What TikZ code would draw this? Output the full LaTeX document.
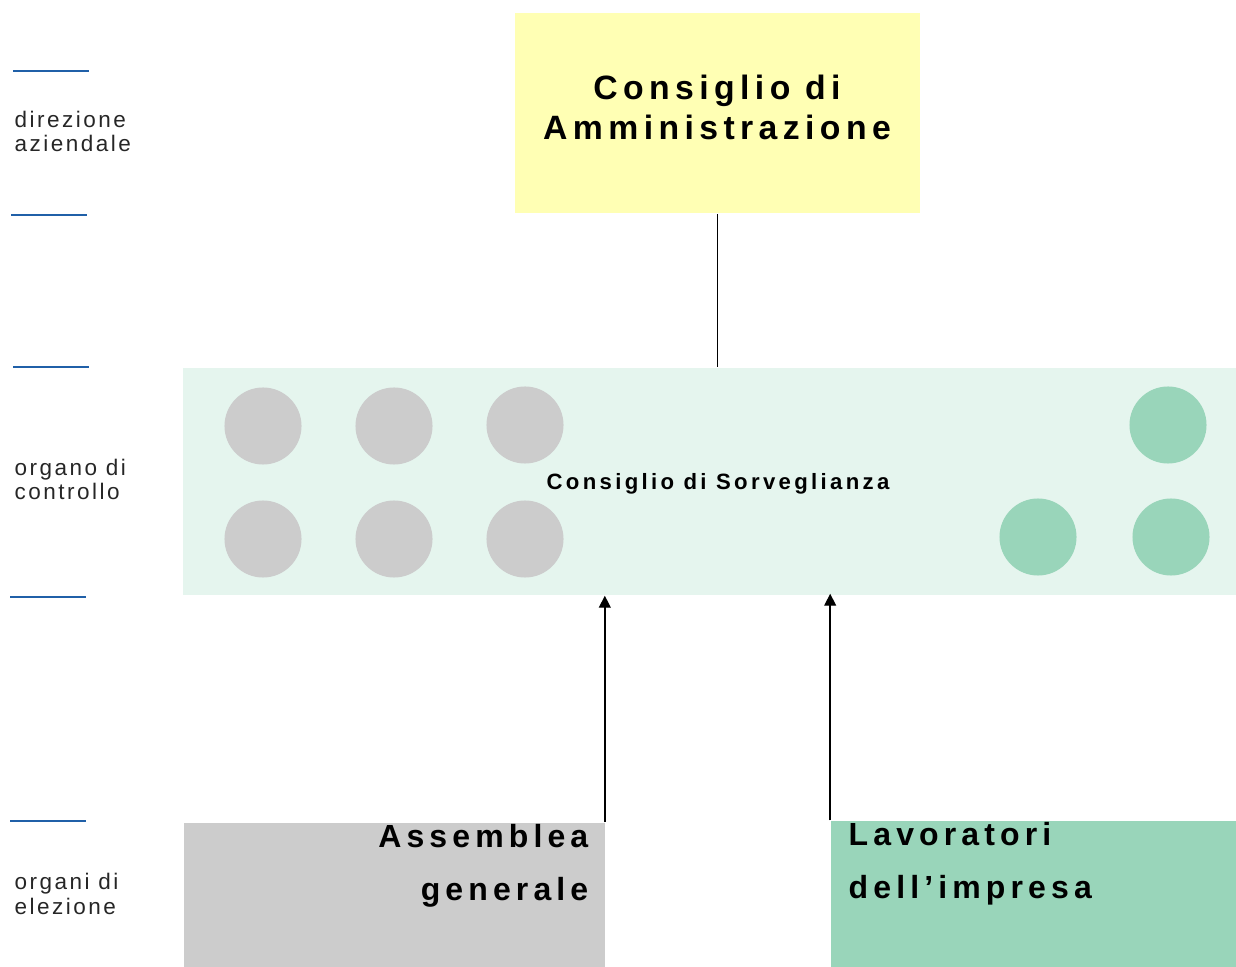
\documentclass[tikz,border=0pt]{standalone}
\usepackage{fontspec}
\setmainfont{Liberation Sans}
\newfontfamily\lblfont[LetterSpace=11]{Liberation Sans}
\newfontfamily\ttlfont[LetterSpace=16]{Liberation Sans}
\newfontfamily\cdsfont[LetterSpace=15]{Liberation Sans}
\newfontfamily\boxfont[LetterSpace=16]{Liberation Sans}
\usetikzlibrary{arrows.meta}
\definecolor{cdayellow}{RGB}{255,255,180}
\definecolor{bandgreen}{RGB}{229,245,238}
\definecolor{circgreen}{RGB}{153,213,186}
\definecolor{circgray}{RGB}{204,204,204}
\definecolor{rulerblue}{RGB}{32,96,168}
\tikzset{
  box/.style={rectangle, inner sep=0pt, draw=none},
  graycirc/.style={circle, fill=circgray, minimum size=0.77cm, inner sep=0pt},
  greencirc/.style={circle, fill=circgreen, minimum size=0.77cm, inner sep=0pt},
  sidelabel/.style={anchor=base west, inner sep=0pt, align=left, font=\lblfont\fontsize{6.4}{7.1}\selectfont, text=black!85},
  ruler/.style={draw=rulerblue, line width=0.35pt},
  conn/.style={draw=black, line width=0.4pt},
  arr/.style={conn, -{Triangle[length=3.4pt,width=3.4pt]}}
}
\begin{document}
\begin{tikzpicture}[x=0.01cm,y=-0.01cm]
\useasboundingbox (0,0) rectangle (1236,967);
% boxes
\node[box, fill=cdayellow, minimum width=4.05cm, minimum height=2.0cm] (cda) at (717.5,113) {};
\node[box, fill=bandgreen, minimum width=10.53cm, minimum height=2.27cm] (cds) at (709.5,481.5) {};
\node[box, fill=circgray, minimum width=4.21cm, minimum height=1.44cm] (ag) at (394.5,895) {};
\node[box, fill=circgreen, minimum width=4.05cm, minimum height=1.46cm] (lav) at (1033.5,894) {};
% circles
\node[graycirc] (g1) at (263,426) {};
\node[graycirc] (g2) at (394,426) {};
\node[graycirc] (g3) at (525,425) {};
\node[graycirc] (g4) at (263,539) {};
\node[graycirc] (g5) at (394,539) {};
\node[graycirc] (g6) at (525,539) {};
\node[greencirc] (v1) at (1168,425) {};
\node[greencirc] (v2) at (1038,537) {};
\node[greencirc] (v3) at (1171,537) {};
% texts (base anchor = baseline of last line)
\node[anchor=base, inner sep=0pt, align=center, font=\ttlfont\bfseries\fontsize{9.6}{11.4}\selectfont] (cdat) at (717,140) {Consiglio di\\Amministrazione};
\node[anchor=base, inner sep=0pt, font=\cdsfont\bfseries\fontsize{6.3}{7}\selectfont] (cdst) at (718,490) {Consiglio di Sorveglianza};
\node[anchor=base east, inner sep=0pt, align=right, font=\boxfont\bfseries\fontsize{9.1}{15}\selectfont] (agt) at (589,900) {Assemblea\\generale};
\node[anchor=base west, inner sep=0pt, align=left, font=\boxfont\bfseries\fontsize{9.1}{15}\selectfont] (lavt) at (848,898) {Lavoratori\\dell’impresa};
% connectors
\draw[conn] (cda.south) -- (cda.south |- cds.north);
\coordinate (a1) at ([xshift=-0.01cm]ag.north east);
\coordinate (a2) at (lav.north west);
\draw[arr] (a1) -- (a1 |- cds.south);
\draw[arr] (a2) -- ([yshift=0.02cm]a2 |- cds.south);
% side rulers
\coordinate (r1a) at (13,71);  \coordinate (r1b) at (89,71);
\coordinate (r2a) at (11,215); \coordinate (r2b) at (87,215);
\coordinate (r3a) at (13,367); \coordinate (r3b) at (89,367);
\coordinate (r4a) at (10,597); \coordinate (r4b) at (86,597);
\coordinate (r5a) at (10,821); \coordinate (r5b) at (86,821);
\draw[ruler] (r1a) -- (r1b);
\draw[ruler] (r2a) -- (r2b);
\draw[ruler] (r3a) -- (r3b);
\draw[ruler] (r4a) -- (r4b);
\draw[ruler] (r5a) -- (r5b);
% side labels
\node[sidelabel] (l1) at (14,152) {direzione\\aziendale};
\node[sidelabel] (l2) at (14,500) {organo di\\controllo};
\node[sidelabel] (l3) at (14,914) {organi di\\elezione};
\end{tikzpicture}
\end{document}
